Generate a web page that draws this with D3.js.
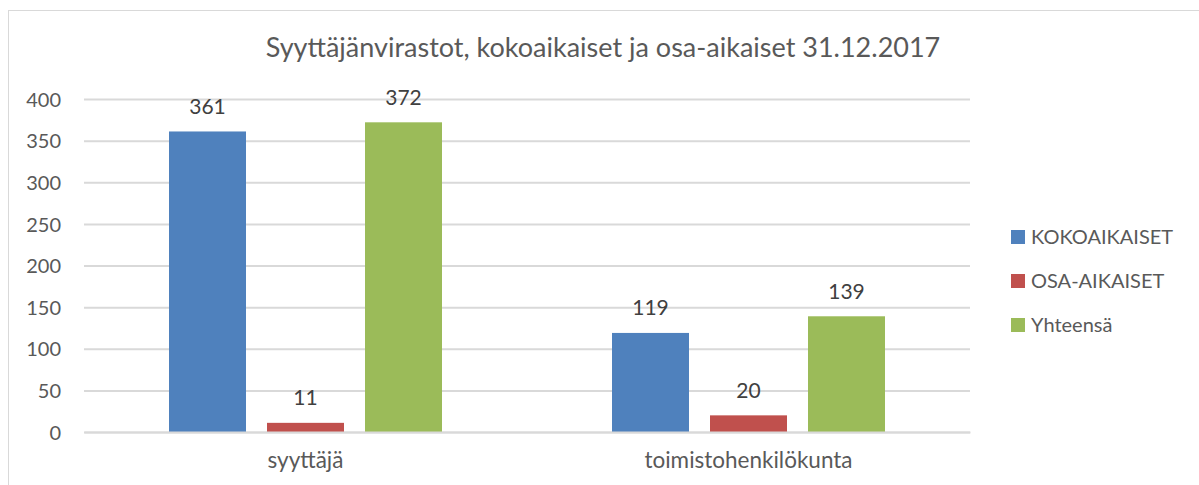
<!DOCTYPE html>
<html><head><meta charset="utf-8">
<script src="https://cdn.jsdelivr.net/npm/d3@7"></script>
<style>
html,body{margin:0;padding:0;background:#fff;}
svg{display:block;}
text{font-family:Lato,"Open Sans",sans-serif;}
</style></head>
<body>
<svg id="c" width="1199" height="485"></svg>
<script>
const title = "Syyttäjänvirastot, kokoaikaiset ja osa-aikaiset 31.12.2017";
const categories = ["syyttäjä", "toimistohenkilökunta"];
const seriesNames = ["KOKOAIKAISET", "OSA-AIKAISET", "Yhteensä"];
const kokoaikaiset = [361, 119];
const osaAikaiset = [11, 20];
const yhteensa = [372, 139];
const yTicks = [0, 50, 100, 150, 200, 250, 300, 350, 400];
const colors = ["#4F81BD", "#C0504D", "#9BBB59"];

const seriesValues = [kokoaikaiset, osaAikaiset, yhteensa];
const svg = d3.select("#c");
const FONT = "Lato,'Open Sans',sans-serif";

// outer frame
svg.append("rect").attr("x", 8.5).attr("y", 10.5).attr("width", 1300).attr("height", 600)
  .attr("fill", "none").attr("stroke", "#D9D9D9").attr("stroke-width", 1);

const m = {left: 84, right: 970, top: 99, bottom: 432};
const y = d3.scaleLinear().domain([0, 400]).range([m.bottom, m.top]);
const x0 = d3.scaleBand().domain(categories).range([m.left, m.right]).padding(0);
const inner = 273;
const x1 = d3.scaleBand().domain(seriesNames).range([0, inner]).paddingInner(0.2143).paddingOuter(0);

// gridlines
const yAxis = d3.axisLeft(y).tickValues(yTicks).tickSize(-(m.right - m.left)).tickFormat(d3.format("d"));
const ga = svg.append("g").attr("transform", `translate(${m.left},0)`).call(yAxis);
ga.select(".domain").remove();
ga.selectAll(".tick line").attr("stroke", "#D9D9D9").attr("stroke-width", 2);
ga.selectAll(".tick text").attr("x", -23).attr("dy", "0.36em").attr("fill", "#595959").style("font-size", "20px")
  .style("font-family", FONT);

// bars
const groups = svg.selectAll("g.cat").data(categories).enter().append("g")
  .attr("transform", d => `translate(${x0(d) + (x0.bandwidth() - inner) / 2},0)`);
groups.each(function(cat, ci) {
  const g = d3.select(this);
  seriesNames.forEach((s, si) => {
    const v = seriesValues[si][ci];
    g.append("rect").attr("x", x1(s)).attr("y", y(v)).attr("width", x1.bandwidth())
      .attr("height", y(0) - y(v)).attr("fill", colors[si]);
    g.append("text").attr("x", x1(s) + x1.bandwidth() / 2).attr("y", y(v) - 17.5)
      .attr("text-anchor", "middle").attr("fill", "#404040").style("font-size", "21px").text(v);
  });
});

// x axis baseline
const xAxis = d3.axisBottom(x0).tickSize(0);
const gx = svg.append("g").attr("transform", `translate(0,${m.bottom})`).call(xAxis);
gx.select(".domain").attr("stroke", "#D9D9D9").attr("stroke-width", 2);
gx.selectAll(".tick text").attr("y", 36).attr("dy", null).attr("fill", "#595959").style("font-size", "22.5px")
  .style("font-family", FONT);

// title
svg.append("text").attr("x", 603).attr("y", 57).attr("text-anchor", "middle")
  .attr("fill", "#595959").style("font-size", "27px").text(title);

// legend
const legY = d3.scalePoint().domain(seriesNames).range([237, 325]);
const lg = svg.selectAll("g.leg").data(seriesNames).enter().append("g")
  .attr("transform", d => `translate(1011,${legY(d)})`);
lg.append("rect").attr("x", 0).attr("y", -7).attr("width", 14).attr("height", 14)
  .attr("fill", (d, i) => colors[i]);
lg.append("text").attr("x", 20).attr("y", 7).attr("fill", "#595959").style("font-size", "20px").text(d => d);
</script>
</body></html>
